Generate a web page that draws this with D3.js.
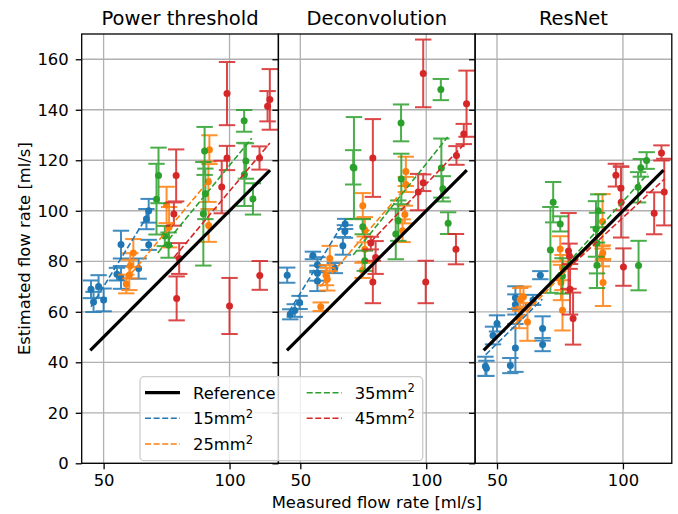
<!DOCTYPE html>
<html>
<head>
<meta charset="utf-8">
<script src="https://cdn.jsdelivr.net/npm/d3@7"></script>
<style>
  body { margin: 0; background: #fff; }
  svg { display: block; }
  text { font-family: "DejaVu Sans", sans-serif; fill: #000; }
</style>
</head>
<body>
<div id="chart"></div>
<script>
// panel titles, groups, colours
const panels = ["Power threshold", "Deconvolution", "ResNet"];
const groups = ["15", "25", "35", "45"];
const colors = ["#1f77b4", "#ff7f0e", "#2ca02c", "#d62728"];

const xTicks = [50, 100];
const yTicks = [0, 20, 40, 60, 80, 100, 120, 140, 160];
const xDomain = [41.3, 119.4];
const yDomain = [0, 170];

// reference line y = x, from / to
const refLine = [44.7, 116.1];

// [measured, estimated, error]
// Power threshold
const pt15 = [[45.0,68.9,3.5],[46.0,63.9,4.0],[48.0,70.0,4.5],[50.0,64.7,4.5],[55.3,74.9,2.5],[56.9,73.6,4.5],
  [63.9,77.1,4.0],[56.9,86.6,5.5],[67.9,86.5,2.0],[67.0,96.7,4.0],[67.9,100.0,4.7]];
const pt25 = [[59.0,71.0,3.7],[60.2,74.6,6.0],[60.6,78.2,5.0],[61.8,83.3,5.5],[75.0,102.3,7.2],[76.0,93.5,8.0],
  [92.0,124.2,5.7],[91.6,111.5,8.0],[91.7,94.2,6.5]];
const pt35 = [[71.8,114.0,11.0],[71.0,104.6,14.0],[74.3,90.0,4.0],[75.8,86.4,5.0],[90.1,123.7,9.5],[90.4,106.7,10.0],
  [89.6,98.8,20.5],[105.8,135.6,4.3],[106.5,119.7,7.0],[105.9,114.4,12.5],[109.3,104.7,6.2]];
const pt45 = [[99.0,146.4,12.5],[116.0,144.1,12.0],[115.1,141.4,6.0],[99.0,120.9,4.8],[111.9,120.9,4.6],[78.8,114.0,10.3],
  [96.9,109.4,10.4],[77.9,98.7,4.6],[80.0,81.1,6.1],[79.0,65.3,8.7],[100.0,62.3,11.1],[112.0,74.4,5.7]];
// fitted lines [x0, y0, x1, y1]
const ptFit = [[45,62,68,99],[59,72.8,92.5,112.8],[71.5,83.3,108.8,128.7],[78,81.6,116,126.8]];

// Deconvolution
const dc15 = [[44.8,74.5,3.0],[46.0,59.0,2.0],[47.8,60.5,2.5],[49.7,63.7,2.6],[55.0,82.3,1.5],[56.8,78.6,3.0],
  [56.8,75.3,3.0],[56.8,72.2,4.0],[63.7,77.3,2.0],[66.9,86.1,3.5],[67.7,91.8,2.5],[67.8,94.8,2.0]];
const dc25 = [[58.1,62.0,1.7],[60.2,74.5,4.0],[60.7,72.9,4.5],[61.7,81.1,5.0],[74.8,102.0,5.0],[75.6,92.5,5.0],
  [75.6,84.8,5.0],[74.7,76.4,3.0],[91.9,115.6,5.8],[91.9,110.4,3.0],[91.5,98.5,3.5],[90.6,92.1,4.5]];
const dc35 = [[71.3,116.9,20.2],[71.0,117.2,6.8],[74.8,93.7,3.0],[75.6,80.2,4.0],[90.0,134.8,7.3],[90.1,112.6,10.0],
  [88.9,96.1,8.0],[87.9,90.8,10.0],[105.8,148.0,4.2],[106.0,116.9,11.7],[106.6,108.7,5.0],[108.7,95.1,4.3]];
const dc45 = [[98.8,154.4,13.4],[116.0,142.4,13.1],[114.9,130.4,4.0],[112.0,121.9,3.7],[78.8,120.9,15.4],[98.8,111.1,3.3],
  [96.8,107.4,7.2],[78.0,87.2,2.5],[79.9,81.5,6.5],[78.8,71.8,8.4],[99.8,71.8,8.4],[111.8,84.8,6.0]];
const dcFit = [[45.5,60,68,96.7],[58,70,92.5,110],[71,82.5,108.5,129.2],[78,87.7,115.5,126.8]];

// ResNet
const rn15 = [[45.4,38.4,3.8],[45.8,37.6,3.0],[48.4,50.6,3.5],[50.0,55.4,3.2],[55.3,38.7,3.0],[57.3,65.6,4.5],
  [57.3,62.9,4.0],[57.3,45.7,9.5],[64.3,64.7,2.0],[67.2,74.5,1.6],[68.1,53.4,4.8],[68.1,47.0,2.6]];
const rn25 = [[59.2,64.9,4.5],[60.5,66.0,4.0],[58.8,57.5,4.0],[62.1,56.0,7.5],[75.1,84.9,5.0],[76.0,77.5,5.0],
  [75.4,71.6,7.0],[76.0,60.6,8.0],[91.9,95.8,10.8],[92.0,83.3,3.0],[91.6,82.0,4.0],[92.1,71.6,9.3]];
const rn35 = [[109.4,119.9,3.3],[107.1,117.0,3.5],[106.0,109.3,6.0],[72.3,103.4,8.0],[75.1,94.8,3.0],[71.2,84.5,17.0],
  [90.2,100.0,6.5],[89.3,92.8,11.0],[89.7,87.2,12.0],[89.7,78.4,9.0],[106.2,78.3,9.8],[76.0,74.2,7.0]];
const rn45 = [[115.3,122.9,3.0],[97.2,114.1,4.5],[99.2,108.9,8.7],[99.3,103.4,14.0],[116.4,107.4,13.2],[112.4,99.0,8.3],
  [78.4,84.1,15.0],[78.8,82.0,5.0],[79.0,68.9,10.0],[80.2,57.3,10.3],[100.2,77.7,7.4]];
const rnFit = [[45.5,43,68,65],[57,55,93,92.5],[71,71.3,109.8,114.6],[78,76.9,116.4,112.5]];

const panelData = [[pt15, pt25, pt35, pt45], [dc15, dc25, dc35, dc45], [rn15, rn25, rn35, rn45]];
const panelFits = [ptFit, dcFit, rnFit];

// layout
const W = 678, H = 514;
const mLeft = 81.7, mTop = 34, pw = 196.7, ph = 429.3;
const fontSize = "16.4px";

const svg = d3.select("#chart").append("svg")
    .attr("width", W)
    .attr("height", H);

const y = d3.scaleLinear().domain(yDomain).range([mTop + ph, mTop]);

panels.forEach(function(name, i) {
  const x0 = mLeft + i * pw;
  const x = d3.scaleLinear().domain(xDomain).range([x0, x0 + pw]);
  const g = svg.append("g");

  svg.append("clipPath").attr("id", "clip" + i)
    .append("rect").attr("x", x0).attr("y", mTop).attr("width", pw).attr("height", ph);

  // grid
  g.selectAll(".gy").data(yTicks).join("line")
      .attr("x1", x0).attr("x2", x0 + pw)
      .attr("y1", d => y(d)).attr("y2", d => y(d))
      .attr("stroke", "#b0b0b0").attr("stroke-width", 1.3);
  g.selectAll(".gx").data(xTicks).join("line")
      .attr("x1", d => x(d)).attr("x2", d => x(d))
      .attr("y1", mTop).attr("y2", mTop + ph)
      .attr("stroke", "#b0b0b0").attr("stroke-width", 1.3);

  const plot = g.append("g").attr("clip-path", "url(#clip" + i + ")");

  // error bars and points
  panelData[i].forEach(function(arr, k) {
    const c = colors[k];
    const eb = plot.append("g").attr("stroke", c).attr("stroke-width", 2).attr("opacity", 0.85);
    arr.forEach(function(d) {
      const cx = x(d[0]);
      eb.append("line").attr("x1", cx).attr("x2", cx).attr("y1", y(d[1] - d[2])).attr("y2", y(d[1] + d[2]));
      eb.append("line").attr("x1", cx - 8.2).attr("x2", cx + 8.2).attr("y1", y(d[1] + d[2])).attr("y2", y(d[1] + d[2]));
      eb.append("line").attr("x1", cx - 8.2).attr("x2", cx + 8.2).attr("y1", y(d[1] - d[2])).attr("y2", y(d[1] - d[2]));
    });
    plot.append("g").selectAll("circle").data(arr).join("circle")
        .attr("cx", d => x(d[0])).attr("cy", d => y(d[1]))
        .attr("r", 3.5).attr("fill", c);
  });

  // fitted lines
  plot.selectAll(".fit").data(panelFits[i]).join("line")
      .attr("x1", d => x(d[0])).attr("y1", d => y(d[1]))
      .attr("x2", d => x(d[2])).attr("y2", d => y(d[3]))
      .attr("stroke", (d, k) => colors[k])
      .attr("stroke-width", 1.6)
      .attr("stroke-dasharray", "6,2.6");

  // reference
  plot.append("line")
      .attr("x1", x(refLine[0])).attr("y1", y(refLine[0]))
      .attr("x2", x(refLine[1])).attr("y2", y(refLine[1]))
      .attr("stroke", "#000").attr("stroke-width", 3.2);

  // axes
  const ya = d3.axisLeft(y).tickValues(yTicks).tickSize(6).tickPadding(7);
  if (i > 0) ya.tickFormat("");
  const yg = svg.append("g").attr("transform", "translate(" + x0 + ",0)").call(ya);
  const xa = d3.axisBottom(x).tickValues(xTicks).tickSize(6).tickPadding(5.5).tickFormat(d3.format("d"));
  const xg = svg.append("g").attr("transform", "translate(0," + (mTop + ph) + ")").call(xa);
  [yg, xg].forEach(function(a) {
    a.select(".domain").remove();
    a.selectAll("line").attr("stroke", "#000").attr("stroke-width", 1.3);
    a.selectAll("text").style("font-size", fontSize).style("font-family", "DejaVu Sans").attr("fill", "#000");
  });

  // frame
  svg.append("rect")
      .attr("x", x0).attr("y", mTop).attr("width", pw).attr("height", ph)
      .attr("fill", "none").attr("stroke", "#000").attr("stroke-width", 1.3);

  // title
  svg.append("text")
      .attr("x", x0 + pw / 2).attr("y", 25)
      .attr("text-anchor", "middle")
      .style("font-size", "19.5px")
      .text(name);
});

// axis labels
svg.append("text")
    .attr("x", mLeft + 1.5 * pw).attr("y", 508)
    .attr("text-anchor", "middle")
    .style("font-size", fontSize)
    .text("Measured flow rate [ml/s]");
svg.append("text")
    .attr("transform", "translate(29.5," + (mTop + ph / 2) + ") rotate(-90)")
    .attr("text-anchor", "middle")
    .style("font-size", fontSize)
    .text("Estimated flow rate [ml/s]");

// legend
const legend = svg.append("g");
legend.append("rect")
    .attr("x", 140).attr("y", 376.7).attr("width", 282.7).attr("height", 84)
    .attr("rx", 4)
    .attr("fill", "#fff").attr("fill-opacity", 0.8)
    .attr("stroke", "#ccc").attr("stroke-width", 1.3);

const legendItems = [{label: "Reference", color: "#000", dash: null, width: 3.2, col: 0, row: 0}]
  .concat(groups.map((gname, k) => ({
    label: gname + "mm", sup: "2", color: colors[k], dash: "6,2.6", width: 1.6,
    col: k < 2 ? 0 : 1, row: k < 2 ? k + 1 : k - 2
  })));
const colX = [145, 306.7];
const rowY = [392.7, 418.3, 444];

legendItems.forEach(function(it) {
  const lx = colX[it.col], ly = rowY[it.row];
  legend.append("line")
      .attr("x1", lx).attr("x2", lx + 35)
      .attr("y1", ly).attr("y2", ly)
      .attr("stroke", it.color).attr("stroke-width", it.width)
      .attr("stroke-dasharray", it.dash);
  const t = legend.append("text")
      .attr("x", lx + 48).attr("y", ly).attr("dy", "0.36em")
      .style("font-size", fontSize);
  t.append("tspan").text(it.label);
  if (it.sup) t.append("tspan").attr("dy", "-0.55em").style("font-size", "11.5px").text(it.sup);
});
</script>
</body>
</html>
